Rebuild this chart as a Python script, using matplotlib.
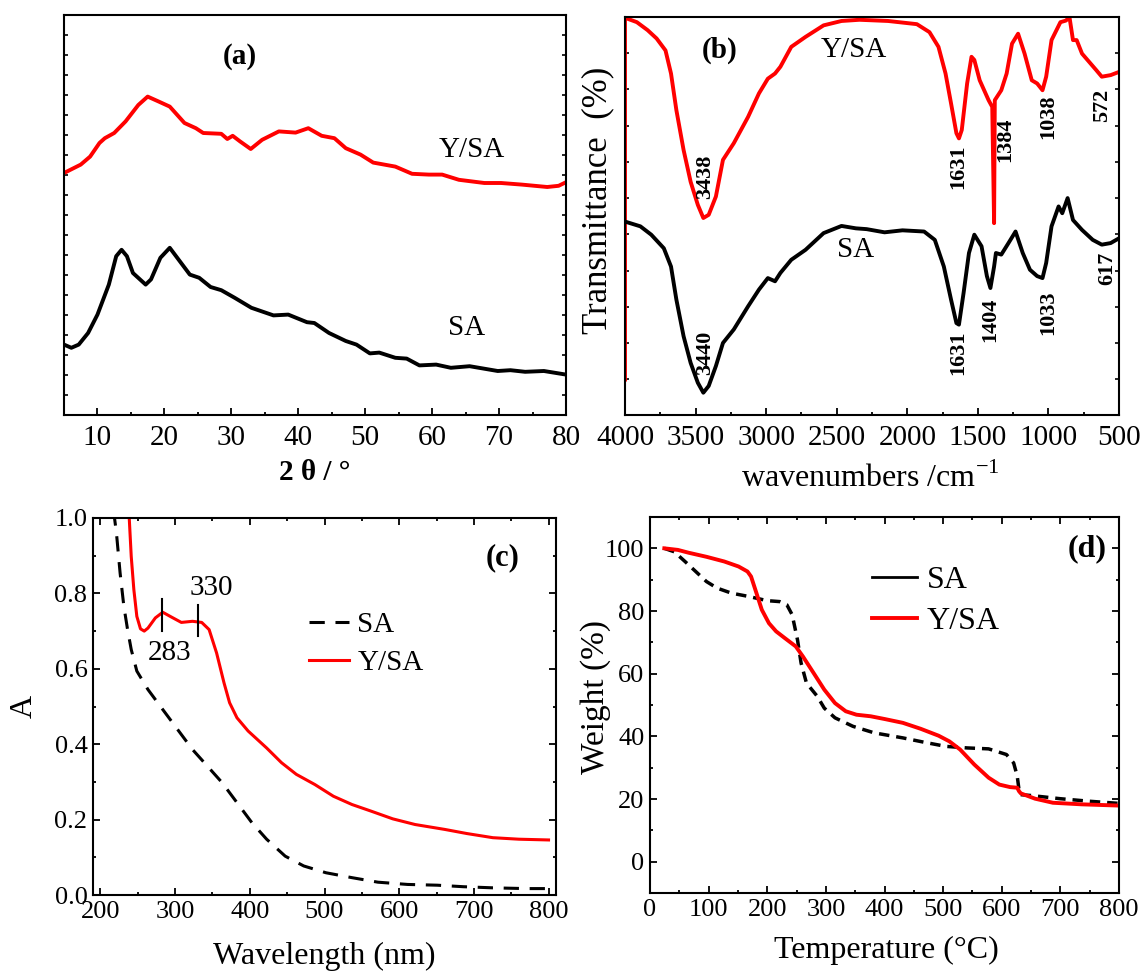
import numpy as np
import matplotlib
matplotlib.use("Agg")
import matplotlib.pyplot as plt
from matplotlib.ticker import MultipleLocator, FixedLocator
from matplotlib.lines import Line2D

plt.rcParams['font.family'] = ['Liberation Serif', 'DejaVu Serif']
plt.rcParams['mathtext.fontset'] = 'custom'
plt.rcParams['mathtext.rm'] = 'Liberation Serif'
plt.rcParams['axes.linewidth'] = 1.5

# ---------------- (a) XRD ----------------
xrd_ysa_x = [5, 7.5, 8.9, 10.3, 11.1, 12.5, 14.2, 16.1, 17.5, 19.1, 20.8, 23.0, 24.7, 25.8, 28.5,
             29.4, 30.2, 31.3, 32.9, 34.6, 37.1, 39.6, 41.5, 43.5, 45.4, 47.1, 49.3, 51.2, 54.5,
             57.0, 59.5, 61.5, 64.0, 67.8, 70.3, 73.4, 77.2, 78.9, 80]
xrd_ysa_y = [60.5, 62.6, 64.6, 68.0, 69.2, 70.5, 73.4, 77.5, 79.6, 78.4, 77.1, 73.0, 71.7, 70.5, 70.3,
             69.0, 69.8, 68.4, 66.5, 68.8, 70.9, 70.6, 71.7, 69.8, 69.2, 66.7, 65.1, 63.1, 62.1,
             60.3, 60.1, 60.1, 58.8, 58.0, 58.0, 57.6, 57.0, 57.3, 58.2]
xrd_sa_x = [5, 6.1, 7.2, 8.6, 10, 11.7, 12.8, 13.6, 14.4, 15.3, 17.2, 18.0, 19.4, 20.8, 22.5, 23.8,
            25.2, 26.9, 28.5, 30.5, 33.0, 36.3, 38.5, 41.3, 42.4, 44.6, 47.1, 48.7, 50.7, 52.1,
            54.5, 56.2, 58.1, 60.6, 62.8, 65.6, 69.8, 71.7, 73.9, 76.7, 80]
xrd_sa_y = [17.6, 16.8, 17.6, 20.5, 25.1, 32.6, 39.7, 41.3, 39.7, 35.5, 32.6, 33.9, 39.3, 41.8, 38.0,
            35.1, 34.3, 32.0, 31.2, 29.3, 26.8, 24.9, 25.1, 23.2, 23.0, 20.5, 18.5, 17.6, 15.4, 15.6,
            14.3, 14.1, 12.4, 12.6, 11.8, 12.2, 11.0, 11.2, 10.8, 11.0, 10.1]

# ---------------- (b) FTIR ----------------
ir_ysa_x = [4000, 4000, 3916, 3840, 3776, 3713, 3674, 3636, 3585, 3535, 3484, 3445, 3407, 3356, 3306,
            3229, 3128, 3051, 2988, 2937, 2899, 2822, 2721, 2593, 2466, 2339, 2136, 1932, 1843,
            1779, 1729, 1690, 1652, 1634, 1614, 1576, 1545, 1525, 1487, 1424, 1398, 1385, 1380,
            1334, 1296, 1258, 1215, 1169, 1118, 1080, 1042, 1016, 978, 915, 876, 851, 826, 800,
            762, 660, 622, 559, 500]
ir_ysa_y = [8.9, 99.8, 98.7, 96.7, 94.6, 91.6, 85.8, 76.6, 66.6, 58.6, 52.8, 49.5, 50.3, 54.9, 64.1,
            68.3, 74.9, 80.8, 84.5, 85.8, 87.5, 92.5, 95.0, 97.9, 99.0, 99.3, 99.0, 98.2, 96.2,
            92.5, 85.8, 78.3, 70.8, 69.5, 71.6, 83.3, 90.0, 89.2, 84.1, 79.1, 77.4, 48.2, 79.1,
            81.6, 85.8, 93.3, 95.8, 90.8, 84.1, 83.3, 81.6, 85.0, 94.2, 98.7, 99.1, 100.0, 94.2, 94.2,
            90.8, 86.6, 85.0, 85.4, 86.2]
ir_sa_x = [4000, 3891, 3814, 3725, 3674, 3636, 3585, 3535, 3484, 3445, 3407, 3356, 3306, 3229, 3128,
           3051, 2988, 2937, 2899, 2822, 2721, 2593, 2466, 2364, 2288, 2161, 2034, 1881, 1805, 1741,
           1690, 1652, 1634, 1601, 1563, 1525, 1474, 1436, 1411, 1385, 1372, 1334, 1283, 1233,
           1182, 1131, 1080, 1042, 1016, 978, 928, 902, 864, 826, 762, 686, 622, 559, 500]
ir_sa_y = [48.6, 47.4, 45.3, 41.9, 37.3, 29.0, 19.8, 13.1, 8.1, 5.6, 7.3, 12.3, 18.1, 21.5, 27.3,
           31.5, 34.4, 33.6, 35.7, 39.0, 41.5, 45.7, 47.5, 46.9, 46.7, 45.9, 46.4, 46.1, 44.0, 37.3,
           29.0, 23.1, 22.7, 30.7, 40.7, 45.3, 42.4, 34.9, 31.9, 37.3, 40.7, 40.3, 43.2, 46.1,
           40.7, 36.5, 34.9, 34.4, 38.2, 47.4, 52.4, 50.7, 54.5, 49.0, 46.5, 44.0, 42.8, 43.2, 44.4]
ir_peaks_ysa = ["3438", "1631", "1384", "1038", "572"]
ir_peaks_ysa_pos = [(3433, 59.9), (1640, 62.4), (1309, 69.1), (1004, 74.9), (622, 77.9)]
ir_peaks_sa = ["3440", "1631", "1404", "1033", "617"]
ir_peaks_sa_pos = [(3433, 15.6), (1640, 15.6), (1411, 24.0), (1004, 25.6), (584, 36.9)]

# ---------------- (c) UV-vis ----------------
uv_ysa_x = [238, 241.2, 244.7, 248.7, 253.6, 258.6, 263.6, 273.5, 283.4, 293.4, 308.3, 323.2, 335.6,
            345.5, 355.5, 365.4, 372.9, 382.8, 397.7, 422.5, 442.4, 462.3, 487.1, 511.9, 536.8,
            561.6, 591.4, 621.2, 660.9, 690.7, 725.5, 760.3, 800]
uv_ysa_y = [1.02, 0.898, 0.810, 0.739, 0.706, 0.700, 0.708, 0.735, 0.750, 0.739, 0.723, 0.726, 0.723,
            0.704, 0.642, 0.563, 0.510, 0.470, 0.435, 0.390, 0.351, 0.320, 0.293, 0.262, 0.240,
            0.223, 0.202, 0.187, 0.174, 0.163, 0.152, 0.148, 0.146]
uv_sa_x = [217.5, 221.4, 226.3, 231.3, 236.3, 241.2, 248.7, 263.6, 283.4, 303.3, 323.2, 343.1, 362.9,
           382.8, 402.7, 422.5, 447.4, 472.2, 502.0, 536.8, 571.5, 611.3, 651.0, 685.8, 725.5,
           770.2, 800]
uv_sa_y = [1.02, 0.960, 0.854, 0.766, 0.704, 0.651, 0.594, 0.545, 0.492, 0.439, 0.386, 0.342, 0.298,
           0.245, 0.192, 0.148, 0.103, 0.077, 0.059, 0.046, 0.034, 0.028, 0.026, 0.022, 0.019,
           0.017, 0.017]
uv_marks = [283, 330]
uv_mark_ranges = [(0.700, 0.784), (0.686, 0.770)]

# ---------------- (d) TGA ----------------
tg_ysa_x = [24.4, 47.5, 65.8, 96.3, 126.7, 151.1, 166.3, 172.4, 181.6, 190.7, 202.9, 215.1, 230.3,
            248.6, 260.8, 279.1, 297.3, 315.6, 333.9, 352.2, 376.5, 400.9, 431.4, 461.8, 492.3,
            510.6, 528.9, 553.2, 577.6, 595.9, 614.2, 626.4, 629.4, 632.5, 656.8, 687.3, 736.0, 800]
tg_ysa_y = [100, 99.5, 98.6, 97.3, 95.8, 94.2, 92.6, 91.0, 85.7, 80.4, 76.1, 73.5, 71.3,
            68.7, 65.5, 60.2, 54.9, 50.6, 48.0, 46.9, 46.4, 45.5, 44.3, 42.4, 40.2,
            38.4, 35.8, 31.0, 26.8, 24.6, 23.8, 23.6, 22.5, 21.8, 20.1, 18.8, 18.3, 17.9]
tg_sa_x = [24.4, 41.4, 59.7, 78.0, 96.3, 114.5, 138.9, 169.4, 199.8, 221.2, 233.4, 242.5, 251.6,
           257.7, 266.9, 285.2, 297.3, 315.6, 346.1, 382.6, 431.4, 468.0, 504.5, 541.1, 577.6,
           608.0, 620.3, 626.4, 629.4, 631.2, 650.7, 699.5, 748.3, 800]
tg_sa_y = [100, 98.9, 95.8, 92.6, 89.4, 87.3, 85.7, 84.6, 83.3, 83.0, 82.0, 78.8, 70.8,
           63.4, 57.0, 52.8, 49.0, 45.9, 43.2, 41.1, 39.5, 38.1, 36.8, 36.3, 36.0,
           34.2, 31.5, 27.3, 23.0, 21.4, 21.1, 20.1, 19.3, 18.6]

W, H = 1142, 973
fig = plt.figure(figsize=(W / 100, H / 100), dpi=100)


def rect(l, t, r, b):
    return [l / W, 1 - b / H, (r - l) / W, (b - t) / H]


RED = '#ff0000'

# ---- (a)
ax = fig.add_axes(rect(64, 15, 566, 415))
ax.plot(xrd_ysa_x, xrd_ysa_y, color=RED, lw=2.8)
ax.plot(xrd_sa_x, xrd_sa_y, color='black', lw=2.8)
ax.set_xlim(5, 80)
ax.set_ylim(0, 100)
ax.xaxis.set_major_locator(MultipleLocator(10))
ax.xaxis.set_minor_locator(MultipleLocator(5))
ax.yaxis.set_major_locator(MultipleLocator(5))
ax.tick_params(axis='x', which='major', direction='in', length=5, width=1.3, labelsize=21, pad=7, top=False)
ax.tick_params(axis='x', which='minor', direction='in', length=2.5, width=1.3, top=False)
ax.tick_params(axis='y', which='major', direction='in', length=3, width=1.2, left=True, right=True, labelleft=False)
ax.text(31.3, 89.6, '(a)', fontsize=21, fontweight='bold', ha='center', va='center')
ax.text(65.9, 66.3, 'Y/SA', fontsize=21, ha='center', va='center')
ax.text(65.2, 21.8, 'SA', fontsize=21, ha='center', va='center')
ax.set_xlabel('2 θ / °', fontsize=21, fontweight='bold')
ax.xaxis.set_label_coords(0.5, -0.145)
ax.xaxis.label.set_va('center')

# ---- (b)
ax = fig.add_axes(rect(625, 17, 1119, 415))
ax.plot(ir_ysa_x, ir_ysa_y, color=RED, lw=2.8)
ax.plot(ir_sa_x, ir_sa_y, color='black', lw=2.8)
ax.set_xlim(4000, 500)
ax.set_ylim(0, 100)
ax.xaxis.set_major_locator(MultipleLocator(500))
ax.xaxis.set_minor_locator(MultipleLocator(250))
ax.yaxis.set_major_locator(FixedLocator(np.arange(9.0, 99.0, 9.1)))
ax.tick_params(axis='x', which='major', direction='in', length=5, width=1.3, labelsize=21, pad=7, top=False)
ax.tick_params(axis='x', which='minor', direction='in', length=2.5, width=1.3, top=False)
ax.tick_params(axis='y', which='major', direction='in', length=3, width=1.2, left=True, right=True, labelleft=False)
for lab, (px, py) in zip(ir_peaks_ysa, ir_peaks_ysa_pos):
    ax.text(px, py, lab, fontsize=16, fontweight='bold', rotation=90, ha='center', va='center')
for lab, (px, py) in zip(ir_peaks_sa, ir_peaks_sa_pos):
    ax.text(px, py, lab, fontsize=16, fontweight='bold', rotation=90, ha='center', va='center')
ax.text(3331, 91.7, '(b)', fontsize=21, fontweight='bold', ha='center', va='center')
ax.text(2377, 91.7, 'Y/SA', fontsize=21, ha='center', va='center')
ax.text(2364, 41.5, 'SA', fontsize=21, ha='center', va='center')
ax.set_xlabel('wavenumbers /cm$^{\\mathrm{-1}}$', fontsize=23)
ax.xaxis.set_label_coords(0.496, -0.158)
ax.xaxis.label.set_va('center')
ax.set_ylabel('Transmittance  (%)', fontsize=25)
ax.yaxis.set_label_coords(-0.055, 0.54)
ax.yaxis.label.set_va('center')

# ---- (c)
ax = fig.add_axes(rect(93, 518, 556, 895))
l_sa, = ax.plot(uv_sa_x, uv_sa_y, color='black', lw=2.2, dashes=(5, 3.5), label='SA')
l_ysa, = ax.plot(uv_ysa_x, uv_ysa_y, color=RED, lw=2.2, label='Y/SA')
for xm, (y0, y1) in zip(uv_marks, uv_mark_ranges):
    ax.plot([xm, xm], [y0, y1], color='black', lw=1.5)
ax.text(348, 0.815, '330', fontsize=21, ha='center', va='center')
ax.text(293, 0.642, '283', fontsize=21, ha='center', va='center')
ax.set_xlim(190, 810)
ax.set_ylim(0, 1.0)
ax.xaxis.set_major_locator(MultipleLocator(100))
ax.xaxis.set_minor_locator(MultipleLocator(50))
ax.yaxis.set_major_locator(MultipleLocator(0.2))
ax.yaxis.set_minor_locator(MultipleLocator(0.1))
ax.yaxis.set_major_formatter(matplotlib.ticker.FormatStrFormatter('%.1f'))
ax.tick_params(which='major', direction='in', length=5, width=1.3, labelsize=19, pad=4,
               top=True, right=True)
ax.tick_params(which='minor', direction='in', length=2.5, width=1.3, top=True, right=True)
ax.text(738, 0.894, '(c)', fontsize=22, fontweight='bold', ha='center', va='center')
ax.legend(handles=[l_sa, l_ysa], loc='upper left', bbox_to_anchor=(0.467, 0.752), frameon=False,
          fontsize=21, handlelength=1.35, handletextpad=0.3, labelspacing=0.4,
          borderpad=0, borderaxespad=0)
ax.set_xlabel('Wavelength (nm)', fontsize=23)
ax.xaxis.set_label_coords(0.5, -0.163)
ax.xaxis.label.set_va('center')
ax.set_ylabel('A', fontsize=23)
ax.yaxis.set_label_coords(-0.149, 0.5)
ax.yaxis.label.set_va('center')

# ---- (d)
ax = fig.add_axes(rect(650, 517, 1119, 893))
ax.plot(tg_sa_x, tg_sa_y, color='black', lw=2.5, dashes=(3, 2))
ax.plot(tg_ysa_x, tg_ysa_y, color=RED, lw=2.8)
ax.set_xlim(0, 800)
ax.set_ylim(-10, 110)
ax.xaxis.set_major_locator(MultipleLocator(100))
ax.xaxis.set_minor_locator(MultipleLocator(50))
ax.yaxis.set_minor_locator(MultipleLocator(10))
ax.set_yticks([0, 20, 40, 60, 80, 100])
ax.tick_params(which='major', direction='in', length=5, width=1.3, labelsize=19, pad=4,
               top=True, right=True)
ax.tick_params(which='minor', direction='in', length=2.5, width=1.3, top=True, right=True)
ax.text(745, 100, '(d)', fontsize=23, fontweight='bold', ha='center', va='center')
handles = [Line2D([], [], color='black', lw=2.0, label='SA'),
           Line2D([], [], color=RED, lw=2.8, label='Y/SA')]
ax.legend(handles=handles, loc='upper left', bbox_to_anchor=(0.474, 0.87), frameon=False,
          fontsize=23, handlelength=1.4, handletextpad=0.3, labelspacing=0.35,
          borderpad=0, borderaxespad=0)
ax.set_xlabel('Temperature (°C)', fontsize=23)
ax.xaxis.set_label_coords(0.503, -0.152)
ax.xaxis.label.set_va('center')
ax.set_ylabel('Weight (%)', fontsize=24)
ax.yaxis.set_label_coords(-0.117, 0.52)
ax.yaxis.label.set_va('center')

fig.savefig('out.png', dpi=100)
